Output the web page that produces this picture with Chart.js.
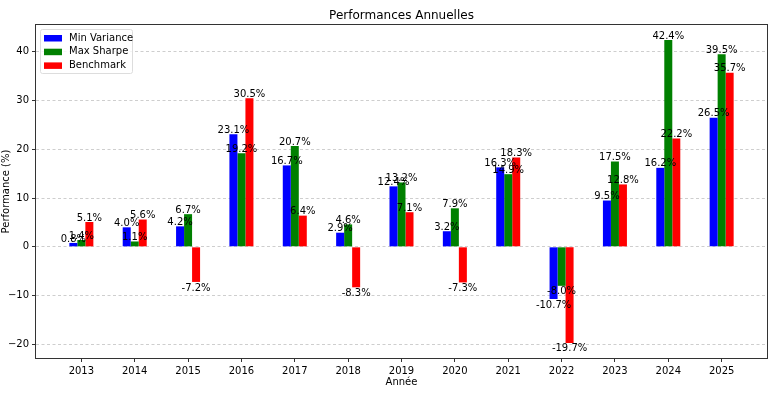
<!DOCTYPE html>
<html>
<head>
<meta charset="utf-8">
<script src="https://cdn.jsdelivr.net/npm/chart.js@4"></script>
<style>
  html, body { margin: 0; padding: 0; background: #fff; }
  #wrap { width: 768px; height: 397px; }
</style>
</head>
<body>
<div id="wrap"><canvas id="perfChart" width="768" height="397"></canvas></div>
<script>
// data
const years = ['2013', '2014', '2015', '2016', '2017', '2018', '2019', '2020', '2021', '2022', '2023', '2024', '2025'];
const minVariance = [0.8, 4.0, 4.2, 23.1, 16.7, 2.9, 12.4, 3.2, 16.3, -10.7, 9.5, 16.2, 26.5];
const maxSharpe = [1.4, 1.1, 6.7, 19.2, 20.7, 4.6, 13.2, 7.9, 14.9, -8.0, 17.5, 42.4, 39.5];
const benchmark = [5.1, 5.6, -7.2, 30.5, 6.4, -8.3, 7.1, -7.3, 18.3, -19.7, 12.8, 22.2, 35.7];
const yTicks = [-20, -10, 0, 10, 20, 30, 40];

const FONT = 'DejaVu Sans';

function toPoints(arr) {
    return arr.map((v, i) => ({ x: i, y: v }));
}

// title, legend box, frame and value labels
const decorations = {
    id: 'decorations',
    afterDatasetsDraw(chart) {
        const ctx = chart.ctx;
        const area = chart.chartArea;
        ctx.save();

        // value labels
        ctx.fillStyle = '#000';
        ctx.font = '10px "' + FONT + '"';
        ctx.textAlign = 'center';
        chart.data.datasets.forEach((ds, di) => {
            const meta = chart.getDatasetMeta(di);
            meta.data.forEach((bar, i) => {
                const v = ds.data[i].y;
                const txt = v.toFixed(1) + '%';
                if (v >= 0) {
                    ctx.textBaseline = 'bottom';
                    ctx.fillText(txt, bar.x, bar.y + 1);
                } else {
                    ctx.textBaseline = 'top';
                    ctx.fillText(txt, bar.x, bar.y + 1);
                }
            });
        });

        // frame
        ctx.strokeStyle = '#333';
        ctx.lineWidth = 1;
        ctx.strokeRect(Math.round(area.left) - 0.5, Math.round(area.top) - 0.5,
            Math.round(area.right - area.left) + 1, Math.round(area.bottom - area.top) + 1);

        // title
        ctx.font = '12px "' + FONT + '"';
        ctx.textBaseline = 'alphabetic';
        ctx.fillText('Performances Annuelles', (area.left + area.right) / 2, area.top - 6);

        // legend
        const lx = area.left + 4, ly = area.top + 4;
        ctx.fillStyle = 'rgba(255,255,255,0.8)';
        ctx.strokeStyle = '#ddd';
        ctx.beginPath();
        ctx.roundRect(lx + 0.5, ly + 0.5, 92, 44, 2);
        ctx.fill();
        ctx.stroke();
        ctx.font = '10px "' + FONT + '"';
        ctx.textAlign = 'left';
        ctx.textBaseline = 'middle';
        chart.data.datasets.forEach((ds, di) => {
            const y = ly + 9 + di * 13.7;
            ctx.fillStyle = ds.backgroundColor;
            ctx.fillRect(lx + 4, y - 3, 18, 6.5);
            ctx.fillStyle = '#000';
            ctx.fillText(ds.label, lx + 29, y);
        });
        ctx.restore();
    }
};

const perfCtx = document.getElementById('perfChart');
new Chart(perfCtx, {
    type: 'bar',
    data: {
        datasets: [
            { label: 'Min Variance', data: toPoints(minVariance), backgroundColor: '#0000ff' },
            { label: 'Max Sharpe', data: toPoints(maxSharpe), backgroundColor: '#008000' },
            { label: 'Benchmark', data: toPoints(benchmark), backgroundColor: '#ff0000' }
        ]
    },
    options: {
        responsive: false,
        animation: false,
        events: [],
        layout: { padding: { top: 25, right: 1, left: 0, bottom: 9 } },
        datasets: { bar: { categoryPercentage: 0.45, barPercentage: 1.0 } },
        plugins: {
            legend: { display: false },
            title: { display: false },
            tooltip: { enabled: false }
        },
        scales: {
            x: {
                type: 'linear',
                offset: false,
                min: -0.85,
                max: 12.85,
                afterBuildTicks: s => { s.ticks = years.map((_, i) => ({ value: i })); },
                afterFit: s => { s.height = 30; },
                ticks: {
                    color: '#000',
                    font: { family: FONT, size: 10 },
                    padding: 3,
                    maxRotation: 0,
                    autoSkip: false,
                    callback: v => years[v]
                },
                grid: { offset: false, drawOnChartArea: false, drawTicks: true, tickLength: 4, tickColor: '#333' },
                border: { display: false },
                title: { display: true, text: 'Année', color: '#000', font: { family: FONT, size: 10 }, padding: { top: 2, bottom: 0 } }
            },
            y: {
                min: -22.8,
                max: 45.5,
                afterBuildTicks: s => { s.ticks = yTicks.map(v => ({ value: v })); },
                afterFit: s => { s.width = 36; },
                ticks: {
                    color: '#000',
                    font: { family: FONT, size: 10 },
                    padding: 3,
                    callback: v => (v < 0 ? '\u2212' + Math.abs(v) : v)
                },
                grid: { color: 'rgba(190,190,190,0.75)', tickColor: '#333', tickLength: 4, tickBorderDash: [] },
                border: { display: false, dash: [3, 2.5] },
                title: { display: true, text: 'Performance (%)', color: '#000', font: { family: FONT, size: 10 }, padding: { top: 0, bottom: 0 } }
            }
        }
    },
    plugins: [decorations]
});
</script>
</body>
</html>
